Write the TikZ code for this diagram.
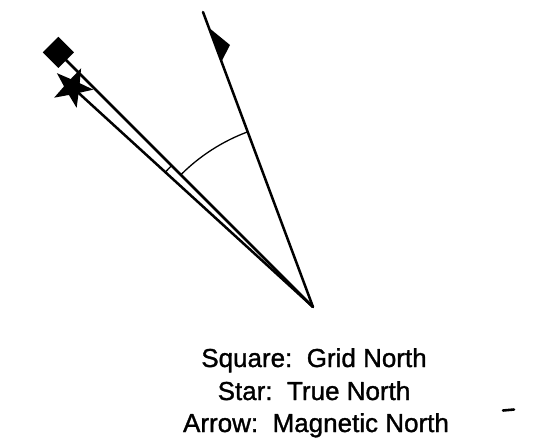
\documentclass[tikz,border=0pt]{standalone}
\usepackage{fontspec}
\setmainfont{Liberation Sans}
\newfontfamily\legendfont[FakeBold=1.2]{Liberation Sans}
\usetikzlibrary{shapes.geometric}
\begin{document}
\begin{tikzpicture}[x=1pt,y=-1pt,line cap=round,line join=round,
  ray/.style={line width=2.5pt},
  thinarc/.style={line width=1.3pt},
  legend/.style={font=\legendfont\fontsize{26}{30}\selectfont,anchor=base,inner sep=0pt},
  marker/.style={fill=black,draw=none,inner sep=0pt}]
\useasboundingbox (0,0) rectangle (545,445);
% apex and ray ends
\coordinate (apex) at (313,307);
\coordinate (gridend) at (65.5,59.5);
\coordinate (magend) at (203,12);
% markers
\node[marker,rectangle,minimum size=22pt,rotate=45] (sq) at (58.4,52.4) {};
\node[marker,star,star points=5,star point ratio=2.5,minimum size=42pt,rotate=47.6] (st) at (72.4,87.3) {};
% rays
\draw[ray] (apex) -- (gridend);
\draw[ray] (apex) -- (st.center);
\draw[ray] (apex) -- (magend);
% half arrowhead on magnetic line
\coordinate (m1) at (221.5,61.5);
\coordinate (m2) at (209.0,27.8);
\coordinate (barb) at (230.0,45.0);
\fill (m1) -- (m2) -- (barb) -- cycle;
% angle arcs
\coordinate (arcA) at (180.8,174.8);
\draw[thinarc] (arcA) arc[start angle=225,end angle=249.6,radius=187];
\coordinate (tickA) at (171.6,165.6);
\draw[thinarc] (tickA) arc[start angle=225,end angle=222.4,radius=200];
% scan mark
\draw[line width=2.6pt] (503,410.5) -- (514,409.5);
% legend
\node[legend] (l1) at (314,367) {Square:\ \ Grid North};
\node[legend] (l2) at (314,400) {Star:\ \ True North};
\node[legend] (l3) at (316,432) {Arrow:\ \ Magnetic North};
\end{tikzpicture}
\end{document}
